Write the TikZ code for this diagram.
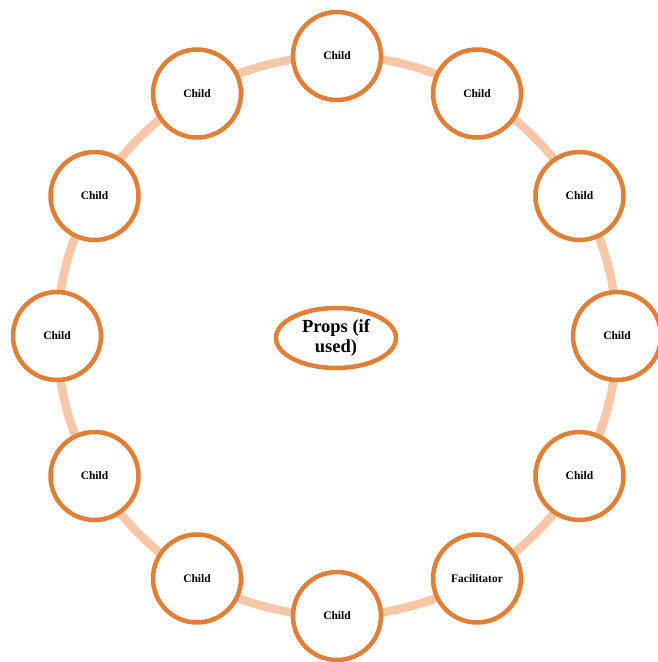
\documentclass[tikz,border=0pt]{standalone}
\usepackage{fontspec}
\setmainfont{Liberation Serif}
\usetikzlibrary{shapes.geometric}
\definecolor{ringc}{HTML}{F8C7A8}
\definecolor{orangec}{HTML}{E07F35}
\tikzset{
  member/.style={circle, draw=orangec, line width=4.5pt, fill=white, minimum size=88pt, inner sep=0pt, font=\bfseries\fontsize{11.5}{13}\selectfont},
  props/.style={ellipse, draw=orangec, line width=4.5pt, fill=white, minimum width=120pt, minimum height=60pt, inner sep=0pt, align=center, font=\bfseries\fontsize{18.5}{20}\selectfont},
  ring/.style={draw=ringc, line width=8.5pt}
}
\begin{document}
\begin{tikzpicture}[x=1pt,y=1pt]
\useasboundingbox (0,0) rectangle (657,662);
\coordinate (c) at (337,326);
\draw[ring] (c) circle (280);
\foreach \a/\t in {90/Child,60/Child,30/Child,0/Child,-30/Child,-60/Facilitator,-90/Child,-120/Child,-150/Child,180/Child,150/Child,120/Child}{
  \node[member] (n\a) at ([shift={(\a:280)}]c) {\t};
}
\node[props] (props) at (336,324) {Props (if\\used)};
\end{tikzpicture}
\end{document}
